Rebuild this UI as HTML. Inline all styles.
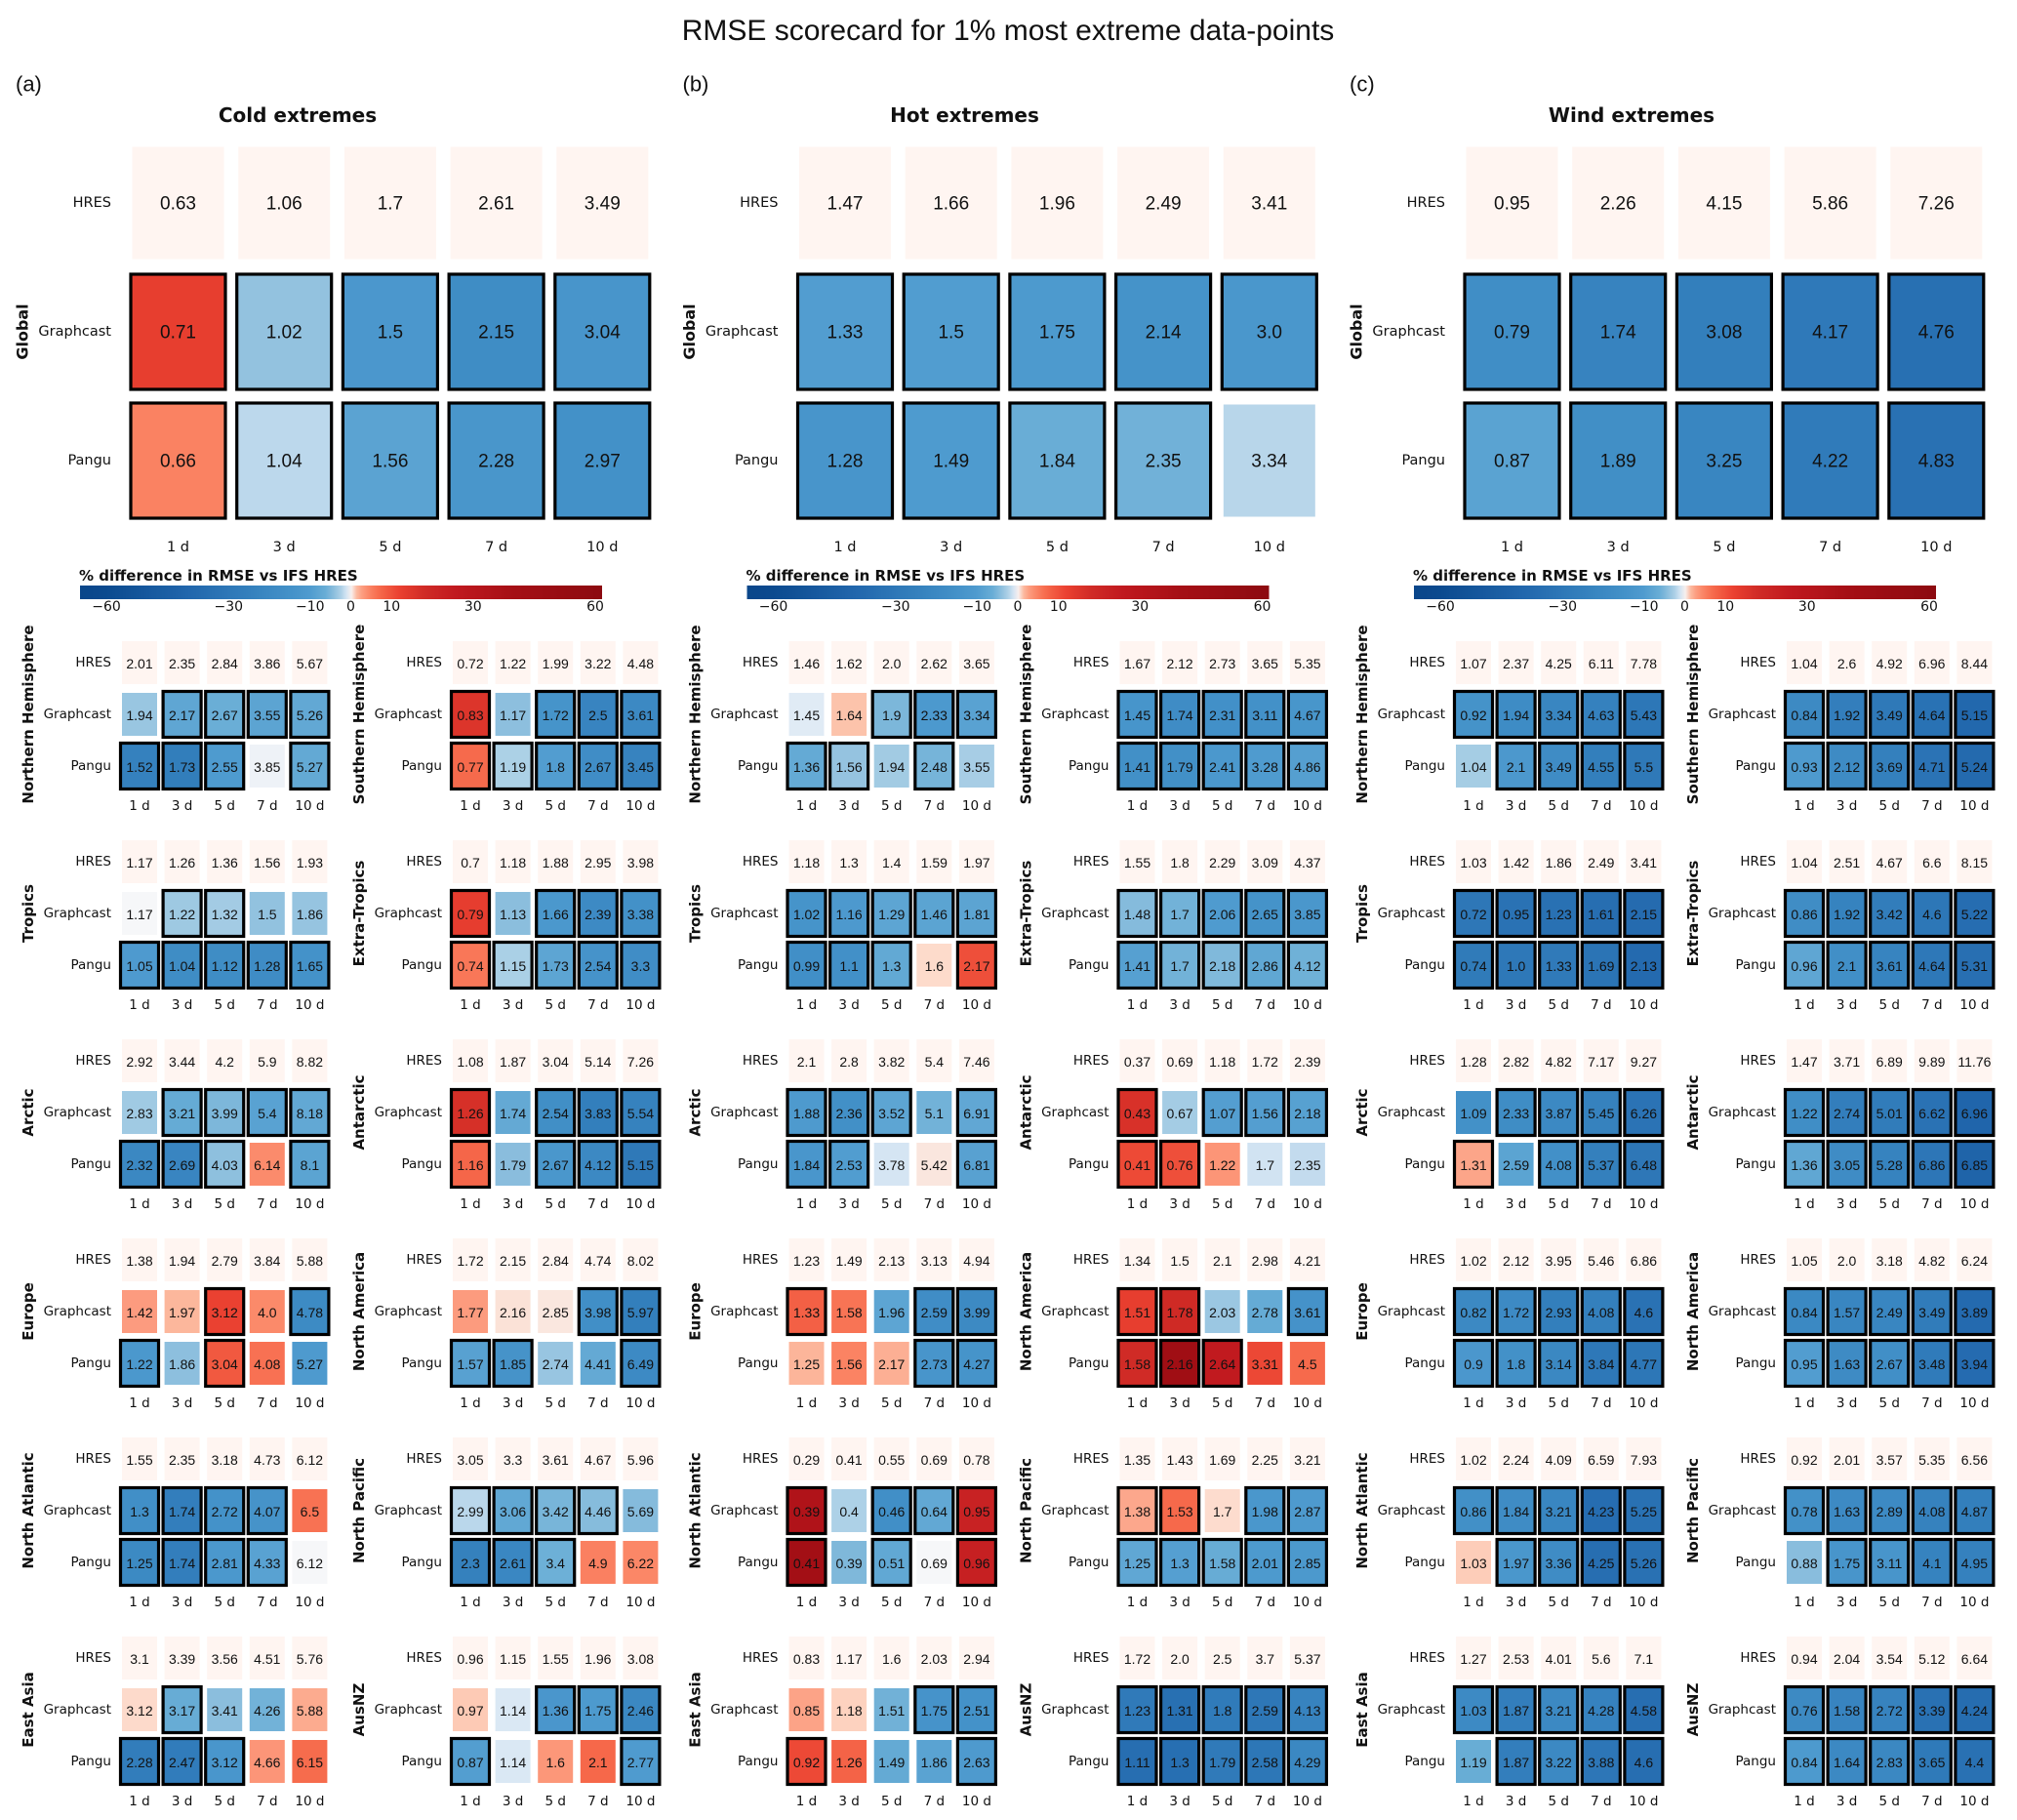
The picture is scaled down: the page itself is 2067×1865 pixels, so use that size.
<!DOCTYPE html>
<html><head><meta charset="utf-8"><title>RMSE scorecard</title>
<style>
html,body{margin:0;padding:0;background:#fff;}
svg{display:block;}
.v{font-family:"Liberation Sans",Arial,sans-serif;fill:#111;}
.l{font-family:"DejaVu Sans","Liberation Sans",sans-serif;fill:#111;}
</style></head>
<body>
<svg id="chart" xmlns="http://www.w3.org/2000/svg" width="2067" height="1865" viewBox="0 0 2067 1865">
<rect x="0" y="0" width="2067" height="1865" fill="#fff"/>
<text class="v" x="1033" y="41" font-size="30" text-anchor="middle">RMSE scorecard for 1% most extreme data-points</text>
</svg>
<script>
// ---------- data ----------
const panelTitles = ["Cold extremes", "Hot extremes", "Wind extremes"];
const panelLetters = ["(a)", "(b)", "(c)"];
const leadTimes = ["1 d", "3 d", "5 d", "7 d", "10 d"];
const modelNames = ["HRES", "Graphcast", "Pangu"];
const regionNames = ["Northern Hemisphere","Southern Hemisphere","Tropics","Extra-Tropics","Arctic","Antarctic","Europe","North America","North Atlantic","North Pacific","East Asia","AusNZ"];
const cbTicks = [-60, -30, -10, 0, 10, 30, 60];

// Global rows per panel
const globalHres = [[0.63,1.06,1.7,2.61,3.49],[1.47,1.66,1.96,2.49,3.41],[0.95,2.26,4.15,5.86,7.26]];
const globalGraphcast = [[0.71,1.02,1.5,2.15,3.04],[1.33,1.5,1.75,2.14,3.0],[0.79,1.74,3.08,4.17,4.76]];
const globalPangu = [[0.66,1.04,1.56,2.28,2.97],[1.28,1.49,1.84,2.35,3.34],[0.87,1.89,3.25,4.22,4.83]];
const globalGraphcastSig = [[1,1,1,1,1],[1,1,1,1,1],[1,1,1,1,1]];
const globalPanguSig = [[1,1,1,1,1],[1,1,1,1,0],[1,1,1,1,1]];

// Cold extremes regions
const coldHres = [[2.01,2.35,2.84,3.86,5.67],[0.72,1.22,1.99,3.22,4.48],[1.17,1.26,1.36,1.56,1.93],[0.7,1.18,1.88,2.95,3.98],[2.92,3.44,4.2,5.9,8.82],[1.08,1.87,3.04,5.14,7.26],[1.38,1.94,2.79,3.84,5.88],[1.72,2.15,2.84,4.74,8.02],[1.55,2.35,3.18,4.73,6.12],[3.05,3.3,3.61,4.67,5.96],[3.1,3.39,3.56,4.51,5.76],[0.96,1.15,1.55,1.96,3.08]];
const coldGraphcast = [[1.94,2.17,2.67,3.55,5.26],[0.83,1.17,1.72,2.5,3.61],[1.17,1.22,1.32,1.5,1.86],[0.79,1.13,1.66,2.39,3.38],[2.83,3.21,3.99,5.4,8.18],[1.26,1.74,2.54,3.83,5.54],[1.42,1.97,3.12,4.0,4.78],[1.77,2.16,2.85,3.98,5.97],[1.3,1.74,2.72,4.07,6.5],[2.99,3.06,3.42,4.46,5.69],[3.12,3.17,3.41,4.26,5.88],[0.97,1.14,1.36,1.75,2.46]];
const coldPangu = [[1.52,1.73,2.55,3.85,5.27],[0.77,1.19,1.8,2.67,3.45],[1.05,1.04,1.12,1.28,1.65],[0.74,1.15,1.73,2.54,3.3],[2.32,2.69,4.03,6.14,8.1],[1.16,1.79,2.67,4.12,5.15],[1.22,1.86,3.04,4.08,5.27],[1.57,1.85,2.74,4.41,6.49],[1.25,1.74,2.81,4.33,6.12],[2.3,2.61,3.4,4.9,6.22],[2.28,2.47,3.12,4.66,6.15],[0.87,1.14,1.6,2.1,2.77]];
const coldGraphcastSig = [[0,1,1,1,1],[1,0,1,1,1],[0,1,1,0,0],[1,0,1,1,1],[0,1,1,1,1],[1,0,1,1,1],[0,0,1,0,1],[0,0,0,1,1],[1,1,1,1,0],[1,1,1,1,0],[0,1,0,0,0],[0,0,1,1,1]];
const coldPanguSig = [[1,1,1,0,1],[1,1,1,1,1],[1,1,1,1,1],[1,1,1,1,1],[1,1,1,0,1],[1,0,1,1,1],[1,0,1,0,0],[1,1,0,0,1],[1,1,1,1,0],[1,1,1,0,0],[1,1,1,0,0],[1,0,0,0,1]];

// Hot extremes regions
const hotHres = [[1.46,1.62,2.0,2.62,3.65],[1.67,2.12,2.73,3.65,5.35],[1.18,1.3,1.4,1.59,1.97],[1.55,1.8,2.29,3.09,4.37],[2.1,2.8,3.82,5.4,7.46],[0.37,0.69,1.18,1.72,2.39],[1.23,1.49,2.13,3.13,4.94],[1.34,1.5,2.1,2.98,4.21],[0.29,0.41,0.55,0.69,0.78],[1.35,1.43,1.69,2.25,3.21],[0.83,1.17,1.6,2.03,2.94],[1.72,2.0,2.5,3.7,5.37]];
const hotGraphcast = [[1.45,1.64,1.9,2.33,3.34],[1.45,1.74,2.31,3.11,4.67],[1.02,1.16,1.29,1.46,1.81],[1.48,1.7,2.06,2.65,3.85],[1.88,2.36,3.52,5.1,6.91],[0.43,0.67,1.07,1.56,2.18],[1.33,1.58,1.96,2.59,3.99],[1.51,1.78,2.03,2.78,3.61],[0.39,0.4,0.46,0.64,0.95],[1.38,1.53,1.7,1.98,2.87],[0.85,1.18,1.51,1.75,2.51],[1.23,1.31,1.8,2.59,4.13]];
const hotPangu = [[1.36,1.56,1.94,2.48,3.55],[1.41,1.79,2.41,3.28,4.86],[0.99,1.1,1.3,1.6,2.17],[1.41,1.7,2.18,2.86,4.12],[1.84,2.53,3.78,5.42,6.81],[0.41,0.76,1.22,1.7,2.35],[1.25,1.56,2.17,2.73,4.27],[1.58,2.16,2.64,3.31,4.5],[0.41,0.39,0.51,0.69,0.96],[1.25,1.3,1.58,2.01,2.85],[0.92,1.26,1.49,1.86,2.63],[1.11,1.3,1.79,2.58,4.29]];
const hotGraphcastSig = [[0,0,1,1,1],[1,1,1,1,1],[1,1,1,1,1],[1,1,1,1,1],[1,1,1,0,1],[1,0,1,1,1],[1,0,0,1,1],[1,1,0,0,1],[1,0,1,1,1],[1,1,0,1,1],[0,0,0,1,1],[1,1,1,1,1]];
const hotPanguSig = [[1,1,0,1,0],[1,1,1,1,1],[1,1,1,0,1],[1,1,1,1,1],[1,1,0,0,1],[1,1,0,0,0],[0,0,0,1,1],[1,1,1,0,0],[1,0,1,0,1],[1,1,1,1,1],[1,0,0,0,1],[1,1,1,1,1]];

// Wind extremes regions
const windHres = [[1.07,2.37,4.25,6.11,7.78],[1.04,2.6,4.92,6.96,8.44],[1.03,1.42,1.86,2.49,3.41],[1.04,2.51,4.67,6.6,8.15],[1.28,2.82,4.82,7.17,9.27],[1.47,3.71,6.89,9.89,11.76],[1.02,2.12,3.95,5.46,6.86],[1.05,2.0,3.18,4.82,6.24],[1.02,2.24,4.09,6.59,7.93],[0.92,2.01,3.57,5.35,6.56],[1.27,2.53,4.01,5.6,7.1],[0.94,2.04,3.54,5.12,6.64]];
const windGraphcast = [[0.92,1.94,3.34,4.63,5.43],[0.84,1.92,3.49,4.64,5.15],[0.72,0.95,1.23,1.61,2.15],[0.86,1.92,3.42,4.6,5.22],[1.09,2.33,3.87,5.45,6.26],[1.22,2.74,5.01,6.62,6.96],[0.82,1.72,2.93,4.08,4.6],[0.84,1.57,2.49,3.49,3.89],[0.86,1.84,3.21,4.23,5.25],[0.78,1.63,2.89,4.08,4.87],[1.03,1.87,3.21,4.28,4.58],[0.76,1.58,2.72,3.39,4.24]];
const windPangu = [[1.04,2.1,3.49,4.55,5.5],[0.93,2.12,3.69,4.71,5.24],[0.74,1.0,1.33,1.69,2.13],[0.96,2.1,3.61,4.64,5.31],[1.31,2.59,4.08,5.37,6.48],[1.36,3.05,5.28,6.86,6.85],[0.9,1.8,3.14,3.84,4.77],[0.95,1.63,2.67,3.48,3.94],[1.03,1.97,3.36,4.25,5.26],[0.88,1.75,3.11,4.1,4.95],[1.19,1.87,3.22,3.88,4.6],[0.84,1.64,2.83,3.65,4.4]];
const windGraphcastSig = [[1,1,1,1,1],[1,1,1,1,1],[1,1,1,1,1],[1,1,1,1,1],[0,1,1,1,1],[1,1,1,1,1],[1,1,1,1,1],[1,1,1,1,1],[1,1,1,1,1],[1,1,1,1,1],[1,1,1,1,1],[1,1,1,1,1]];
const windPanguSig = [[0,1,1,1,1],[1,1,1,1,1],[1,1,1,1,1],[1,1,1,1,1],[1,0,1,1,1],[1,1,1,1,1],[1,1,1,1,1],[1,1,1,1,1],[0,1,1,1,1],[0,1,1,1,1],[0,1,1,1,1],[1,1,1,1,1]];

const regHres = [coldHres, hotHres, windHres];
const regGraphcast = [coldGraphcast, hotGraphcast, windGraphcast];
const regPangu = [coldPangu, hotPangu, windPangu];
const regGraphcastSig = [coldGraphcastSig, hotGraphcastSig, windGraphcastSig];
const regPanguSig = [coldPanguSig, hotPanguSig, windPanguSig];

// ---------- colour scale (% difference) ----------
const STOPS = [[-66,"#0a468a"],[-60,"#0b4a8f"],[-40,"#2166ac"],[-25,"#3480bd"],[-15,"#4391c8"],[-10,"#4f9bcf"],[-6,"#6aaed6"],[-4,"#8fc0de"],[-2.5,"#abd0e6"],[-1.2,"#d0e2f2"],[0,"#f6f7f9"],[0.6,"#fddccd"],[1.5,"#fcb89d"],[2.5,"#fca185"],[4.5,"#fb8565"],[7,"#f6694b"],[12,"#ea4030"],[18,"#d02b26"],[26,"#c0191f"],[40,"#a50f15"],[62,"#8c0a10"]];
function hex(c){return [parseInt(c.substr(1,2),16),parseInt(c.substr(3,2),16),parseInt(c.substr(5,2),16)];}
function colorFor(p){
  if(p<=STOPS[0][0]) return STOPS[0][1];
  for(let i=1;i<STOPS.length;i++){
    if(p<=STOPS[i][0]){
      const a=STOPS[i-1], b=STOPS[i], t=(p-a[0])/(b[0]-a[0]);
      const A=hex(a[1]), B=hex(b[1]);
      return "rgb("+A.map((v,k)=>Math.round(v+(B[k]-v)*t)).join(",")+")";
    }
  }
  return STOPS[STOPS.length-1][1];
}
function fmt(v){return Number.isInteger(v)? v.toFixed(1) : String(v);}

// ---------- drawing helpers ----------
const svg = document.getElementById("chart");
const NS = "http://www.w3.org/2000/svg";
function mk(tag, attrs, parent){
  const e = document.createElementNS(NS, tag);
  for(const k in attrs) e.setAttribute(k, attrs[k]);
  (parent||svg).appendChild(e);
  return e;
}
function txt(str, x, y, size, cls, anchor, extra){
  const t = mk("text", Object.assign({x:x, y:y, "font-size":size, class:cls, "text-anchor":anchor||"middle", "dominant-baseline":"central"}, extra||{}));
  t.textContent = str;
  return t;
}

function drawCell(cx, cy, w, h, fill, sig, label, fsize, name){
  const g = mk("g", {});
  
  
  let r;
  if(sig){
    r = mk("rect", {x:cx-(w+3)/2, y:cy-(h+3)/2, width:w+3, height:h+3, fill:fill, stroke:"#000", "stroke-width":3.2}, g);
  } else {
    r = mk("rect", {x:cx-w/2, y:cy-h/2, width:w, height:h, fill:fill}, g);
  }
  
  
  const t = txt(label, cx, cy+1, fsize, "v");
  g.appendChild(t);
  
  
}

const PANEL_DX = 683.5;
const HRES_FILL = "#fff5f1";

for(let p=0;p<3;p++){
  const ox = p*PANEL_DX;
  const lt = txt(panelLetters[p], ox+16, 86, 22, "v", "start");
  
  
  const pt = txt(panelTitles[p], ox+305, 118, 20, "l", "middle", {"font-weight":"bold"});
  
  

  // ---- global block ----
  const gx = i => ox + 182.5 + i*108.7;
  const gy = [208, 340, 472];
  for(let m=0;m<3;m++){
    const rl = txt(modelNames[m], ox+114, gy[m], 14.5, "l", "end");
    
    
  }
  const gl = txt("Global", ox+23, gy[1], 16, "l", "middle", {"font-weight":"bold", transform:"rotate(-90 "+(ox+23)+" "+gy[1]+")"});
  
  
  for(let i=0;i<5;i++){
    const h = globalHres[p][i];
    drawCell(gx(i), gy[0], 94, 115, HRES_FILL, 0, fmt(h), 19, "global-hres-cell");
    const g = globalGraphcast[p][i];
    drawCell(gx(i), gy[1], 94, 115, colorFor((g-h)/h*100), globalGraphcastSig[p][i], fmt(g), 19, "global-graphcast-cell");
    const q = globalPangu[p][i];
    drawCell(gx(i), gy[2], 94, 115, colorFor((q-h)/h*100), globalPanguSig[p][i], fmt(q), 19, "global-pangu-cell");
    const tk = txt(leadTimes[i], gx(i), 561, 14.5, "l");
    
    
  }

  // ---- colorbar ----
  const cbx = v => ox + 359.5 + 4.175*v;
  const cbt = txt("% difference in RMSE vs IFS HRES", ox+81, 590, 15, "l", "start", {"font-weight":"bold"});
  
  
  const gid = "cbgrad"+p;
  const defs = mk("defs", {});
  const lg = mk("linearGradient", {id:gid, x1:"0", x2:"1", y1:"0", y2:"0"}, defs);
  const x0 = ox+82, x1 = ox+617;
  for(let s=0;s<=100;s++){
    const xx = x0 + (x1-x0)*s/100;
    const v = (xx - ox - 359.5)/4.175;
    mk("stop", {offset:(s)+"%", "stop-color":colorFor(v)}, lg);
  }
  const bar = mk("rect", {x:x0, y:600, width:x1-x0, height:14, fill:"url(#"+gid+")"});
  
  
  cbTicks.forEach(v=>{
    const lab = v<0 ? "\u2212"+Math.abs(v) : String(v);
    const t = txt(lab, cbx(v), 622, 14, "l");
    
    
  });

  // ---- regional blocks ----
  for(let r=0;r<12;r++){
    const k = Math.floor(r/2), s = r%2;
    const sx = ox + s*339;
    const y0 = 679 + k*204;
    const ys = [y0, y0+53, y0+106];
    const cx = j => sx + 143 + j*43.6;
    const rg = mk("g", {});
    
    
    const rl = txt(regionNames[r], sx+29, ys[1], 15, "l", "middle", {"font-weight":"bold", transform:"rotate(-90 "+(sx+29)+" "+ys[1]+")"});
    
    
    for(let m=0;m<3;m++){
      const ml = txt(modelNames[m], sx+114, ys[m], 13.5, "l", "end");
      
      
    }
    for(let j=0;j<5;j++){
      const h = regHres[p][r][j];
      drawCell(cx(j), ys[0], 36, 44, HRES_FILL, 0, fmt(h), 14, "hres-cell");
      const g = regGraphcast[p][r][j];
      drawCell(cx(j), ys[1], 36, 44, colorFor((g-h)/h*100), regGraphcastSig[p][r][j], fmt(g), 14, "graphcast-cell");
      const q = regPangu[p][r][j];
      drawCell(cx(j), ys[2], 36, 44, colorFor((q-h)/h*100), regPanguSig[p][r][j], fmt(q), 14, "pangu-cell");
      const tk = txt(leadTimes[j], cx(j), y0+147, 13.5, "l");
      
      
    }
  }
}
</script>
</body></html>
